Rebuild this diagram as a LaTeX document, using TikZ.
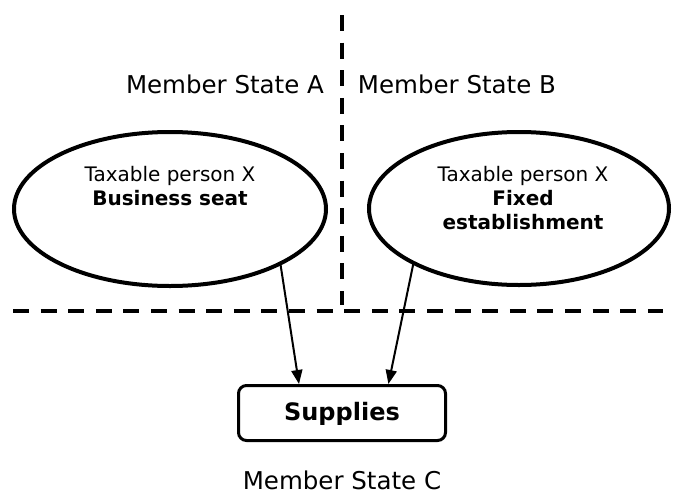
\documentclass[tikz,border=0pt]{standalone}
\usepackage{fontspec}
\setmainfont{DejaVu Sans}
\usetikzlibrary{shapes.geometric,arrows.meta}
\tikzset{
  divider/.style={line width=4pt, dash pattern=on 16pt off 11.6pt},
  place/.style={ellipse, draw, line width=4pt, inner sep=0pt},
  supbox/.style={draw, line width=3pt, rounded corners=8pt, inner sep=0pt},
  statelbl/.style={anchor=base, inner sep=0pt, font=\fontsize{24.5}{29}\selectfont},
  small/.style={anchor=base, inner sep=0pt, font=\fontsize{20}{24}\selectfont},
  smallbold/.style={anchor=base, inner sep=0pt, font=\fontsize{20}{24}\selectfont\bfseries},
  flow/.style={line width=2pt, -{Triangle[length=14pt,width=11pt]}, shorten <=-1pt}
}
\begin{document}
\begin{tikzpicture}[x=1pt,y=1pt]
\useasboundingbox (0,0) rectangle (673,-496);
% dividers
\draw[divider] (342,-15) -- (342,-305);
\draw[divider] (13,-311) -- (663,-311);
% state labels
\node[statelbl] (msa) at (225,-93) {Member State A};
\node[statelbl] (msb) at (457,-93) {Member State B};
\node[statelbl] (msc) at (342,-489) {Member State C};
% ellipses
\node[place, minimum width=312pt, minimum height=154pt] (ellA) at (170,-209) {};
\node[place, minimum width=300pt, minimum height=153pt] (ellB) at (519,-208.5) {};
\node[small] (ta) at (170,-181.5) {Taxable person X};
\node[smallbold] (ba) at (170,-205.5) {Business seat};
\node[small] (tb) at (523,-181.5) {Taxable person X};
\node[smallbold] (fb) at (523,-205.5) {Fixed};
\node[smallbold] (eb) at (523,-229.5) {establishment};
% supplies box
\node[supbox, minimum width=207pt, minimum height=55pt] (sup) at (342,-413) {};
\node[anchor=base, inner sep=0pt, font=\fontsize{24}{29}\selectfont\bfseries] (supt) at (342,-420) {Supplies};
% arrows
\draw[flow] (ellA.-27) -- (sup.146.6);
\draw[flow] (ellB.-152) -- (sup.32.8);
\end{tikzpicture}
\end{document}
